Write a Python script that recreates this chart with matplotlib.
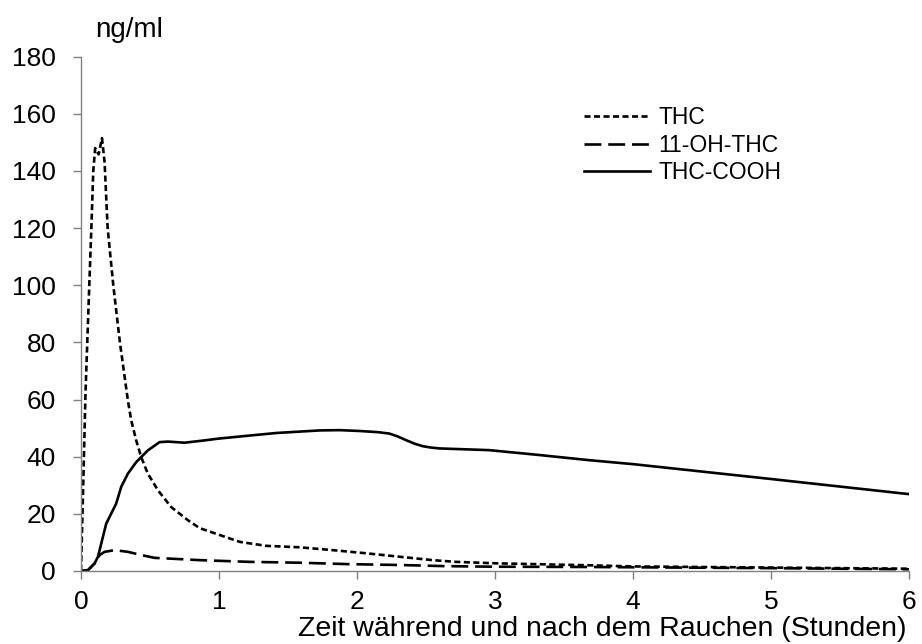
import matplotlib
matplotlib.use("Agg")
import matplotlib.pyplot as plt

plt.rcParams['font.family'] = ['Liberation Sans', 'DejaVu Sans']

# THC
thc_x = [0, 0.015, 0.033, 0.06, 0.075, 0.089, 0.103, 0.128, 0.152, 0.171, 0.193, 0.234,
         0.282, 0.32, 0.34, 0.364, 0.40, 0.436, 0.484, 0.557, 0.653, 0.774, 0.86, 1.005,
         1.15, 1.343, 1.583, 1.824, 2.066, 2.307, 2.547, 2.716, 3.0, 3.68, 4.0, 5.0, 6.0]
thc_y = [0, 28, 63, 100, 120, 140, 148, 145.8, 151.5, 143, 120, 100,
         80, 66.6, 59.6, 52.7, 45.7, 39.9, 34.1, 28.3, 22.4, 17.8, 15, 12.6,
         10.2, 8.8, 8.3, 7.3, 6.2, 5.0, 3.8, 3.2, 2.7, 2.0, 1.6, 1.2, 0.8]

# 11-OH-THC
oh_x = [0, 0.05, 0.1, 0.135, 0.171, 0.244, 0.34, 0.436, 0.533, 0.70, 0.86, 1.22,
        1.58, 1.94, 2.31, 2.64, 3.0, 3.68, 4.0, 5.0, 6.0]
oh_y = [0, 0.3, 2.7, 5.6, 6.7, 7.3, 6.7, 5.6, 4.6, 4.2, 3.8, 3.2,
        2.9, 2.4, 2.1, 1.7, 1.5, 1.4, 1.3, 1.0, 0.6]

# THC-COOH
cooh_x = [0, 0.015, 0.051, 0.099, 0.123, 0.159, 0.183, 0.219, 0.255, 0.291, 0.34, 0.40,
          0.484, 0.569, 0.629, 0.75, 0.894, 0.99, 1.2, 1.415, 1.73, 1.873, 2.02, 2.15,
          2.234, 2.295, 2.355, 2.415, 2.475, 2.536, 2.596, 2.957, 3.32, 3.68, 4.0, 5.0, 6.0]
cooh_y = [0, 0, 0.3, 2.7, 5.0, 12.0, 16.6, 20.1, 23.6, 29.4, 34.1, 38.1,
          42.2, 45.1, 45.3, 44.9, 45.7, 46.3, 47.3, 48.3, 49.2, 49.3, 49.0, 48.6,
          48.1, 47.1, 45.8, 44.6, 43.7, 43.2, 42.9, 42.3, 40.6, 38.8, 37.4, 32.2, 26.9]

labels = ['THC', '11-OH-THC', 'THC-COOH']
x_ticks = [0, 1, 2, 3, 4, 5, 6]
y_ticks = [0, 20, 40, 60, 80, 100, 120, 140, 160, 180]

fig = plt.figure(figsize=(9.22, 6.44), dpi=100)
ax = fig.add_axes([81/922, 73/644, 828/922, 514.3/644])

LW = 1.9
ax.plot(thc_x, thc_y, color='black', lw=LW, linestyle=(0, (2.3, 1.3)), label=labels[0])
ax.plot(oh_x, oh_y, color='black', lw=LW, linestyle=(0, (6.4, 2.6)), label=labels[1])
ax.plot(cooh_x, cooh_y, color='black', lw=LW, linestyle='-', label=labels[2])

ax.set_xlim(0, 6)
ax.set_ylim(0, 180)
ax.set_xticks(x_ticks)
ax.set_yticks(y_ticks)

for s in ['top', 'right']:
    ax.spines[s].set_visible(False)
for s in ['left', 'bottom']:
    ax.spines[s].set_color('#808080')
    ax.spines[s].set_linewidth(1.0)

ax.tick_params(axis='both', direction='out', length=6, width=1.0, color='#808080',
               labelsize=19, labelcolor='black')
ax.tick_params(axis='y', pad=12)
ax.tick_params(axis='x', pad=8)

fig.text(95/922, 1 - 30/644, 'ng/ml', fontsize=20, ha='left', va='center')
fig.text(906/922, 1 - 636/644, 'Zeit während und nach dem Rauchen (Stunden)',
         fontsize=20.5, ha='right', va='baseline')

leg = ax.legend(loc='upper left', bbox_to_anchor=(584/922, 1 - 106/644),
                bbox_transform=fig.transFigure, frameon=False, fontsize=16.5,
                handlelength=2.9, handletextpad=0.35, labelspacing=0.2,
                borderpad=0, borderaxespad=0)

fig.savefig('out.png', dpi=100)
